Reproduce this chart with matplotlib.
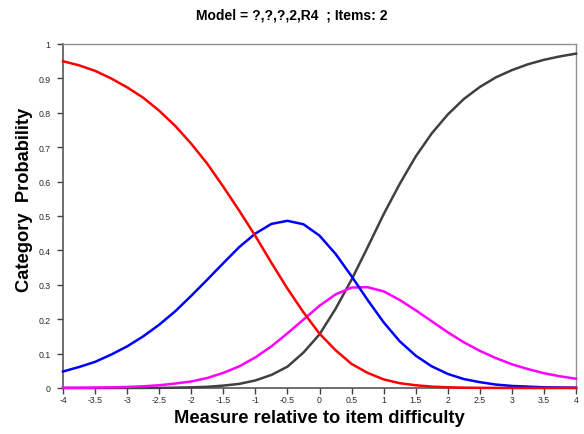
import matplotlib
matplotlib.use("Agg")
import matplotlib.pyplot as plt

plt.rcParams['font.family'] = ['Liberation Sans', 'DejaVu Sans']

# Data
measure = [-4.0, -3.75, -3.5, -3.25, -3.0, -2.75, -2.5, -2.25, -2.0, -1.75, -1.5, -1.25,
           -1.0, -0.75, -0.5, -0.25, 0.0, 0.25, 0.5, 0.75, 1.0, 1.25, 1.5, 1.75,
           2.0, 2.25, 2.5, 2.75, 3.0, 3.25, 3.5, 3.75, 4.0]

cat_red = [0.950, 0.938, 0.922, 0.900, 0.874, 0.844, 0.806, 0.762, 0.710, 0.652, 0.585, 0.515,
           0.442, 0.364, 0.289, 0.220, 0.158, 0.110, 0.070, 0.044, 0.025, 0.014, 0.008, 0.004,
           0.002, 0.001, 0.0005, 0.0003, 0.0001, 0.0, 0.0, 0.0, 0.0]

cat_blue = [0.048, 0.061, 0.076, 0.097, 0.121, 0.150, 0.184, 0.223, 0.268, 0.315, 0.363, 0.410,
            0.449, 0.477, 0.486, 0.476, 0.443, 0.390, 0.325, 0.256, 0.191, 0.136, 0.094, 0.063,
            0.041, 0.026, 0.017, 0.010, 0.006, 0.004, 0.002, 0.0015, 0.001]

cat_magenta = [0.0005, 0.0008, 0.0013, 0.002, 0.003, 0.005, 0.008, 0.013, 0.019, 0.029, 0.044, 0.063,
               0.089, 0.121, 0.159, 0.199, 0.239, 0.272, 0.292, 0.293, 0.281, 0.256, 0.226, 0.194,
               0.162, 0.133, 0.108, 0.087, 0.069, 0.055, 0.043, 0.034, 0.027]

cat_black = [0.0, 0.0, 0.0, 0.0001, 0.0001, 0.0002, 0.0004, 0.0009, 0.002, 0.0034, 0.007, 0.012,
             0.022, 0.038, 0.062, 0.103, 0.156, 0.230, 0.315, 0.409, 0.505, 0.593, 0.673, 0.740,
             0.795, 0.840, 0.875, 0.903, 0.924, 0.941, 0.954, 0.964, 0.972]

xticks = [-4, -3.5, -3, -2.5, -2, -1.5, -1, -0.5, 0, 0.5, 1, 1.5, 2, 2.5, 3, 3.5, 4]
xtick_labels = ['-4', '-3.5', '-3', '-2.5', '-2', '-1.5', '-1', '-0.5', '0', '0.5', '1',
                '1.5', '2', '2.5', '3', '3.5', '4']
yticks = [0, 0.1, 0.2, 0.3, 0.4, 0.5, 0.6, 0.7, 0.8, 0.9, 1.0]
ytick_labels = ['0', '0.1', '0.2', '0.3', '0.4', '0.5', '0.6', '0.7', '0.8', '0.9', '1']

fig = plt.figure(figsize=(5.84, 4.35), dpi=100)
ax = fig.add_axes([63/584, 1 - 389/435, (576 - 63)/584, (389 - 45)/435])

lw = 1.8
ax.plot(measure, cat_black, color='#404040', lw=lw, clip_on=False, zorder=3)
ax.plot(measure, cat_magenta, color='#ff00ff', lw=lw, clip_on=False, zorder=4)
ax.plot(measure, cat_blue, color='#0000ff', lw=lw, clip_on=False, zorder=5)
ax.plot(measure, cat_red, color='#ff0000', lw=lw, clip_on=False, zorder=6)

ax.set_xlim(-4, 4)
ax.set_ylim(0, 1)
ax.set_xticks(xticks)
ax.set_xticklabels(xtick_labels)
ax.set_yticks(yticks)
ax.set_yticklabels(ytick_labels)
ax.tick_params(axis='both', direction='out', length=4, width=1, color='#404040',
               labelsize=6.3, labelcolor='#2a2a2a')
ax.tick_params(axis='y', pad=5)
ax.tick_params(axis='x', pad=1)

for side in ['left', 'bottom']:
    ax.spines[side].set_color('#555555')
    ax.spines[side].set_linewidth(1.2)
for side in ['top', 'right']:
    ax.spines[side].set_color('#909090')
    ax.spines[side].set_linewidth(1.0)

ax.set_xlabel('Measure relative to item difficulty', fontsize=13.2, fontweight='bold')
ax.xaxis.set_label_coords(0.5, -0.06)
ax.set_ylabel('Category  Probability', fontsize=13.2, fontweight='bold')
ax.yaxis.set_label_coords(-0.058, 0.55)
fig.text(292/584, 1 - 15/435, 'Model = ?,?,?,2,R4  ; Items: 2', ha='center', va='center',
         fontsize=10, fontweight='bold')

fig.savefig('out.png', dpi=100)
